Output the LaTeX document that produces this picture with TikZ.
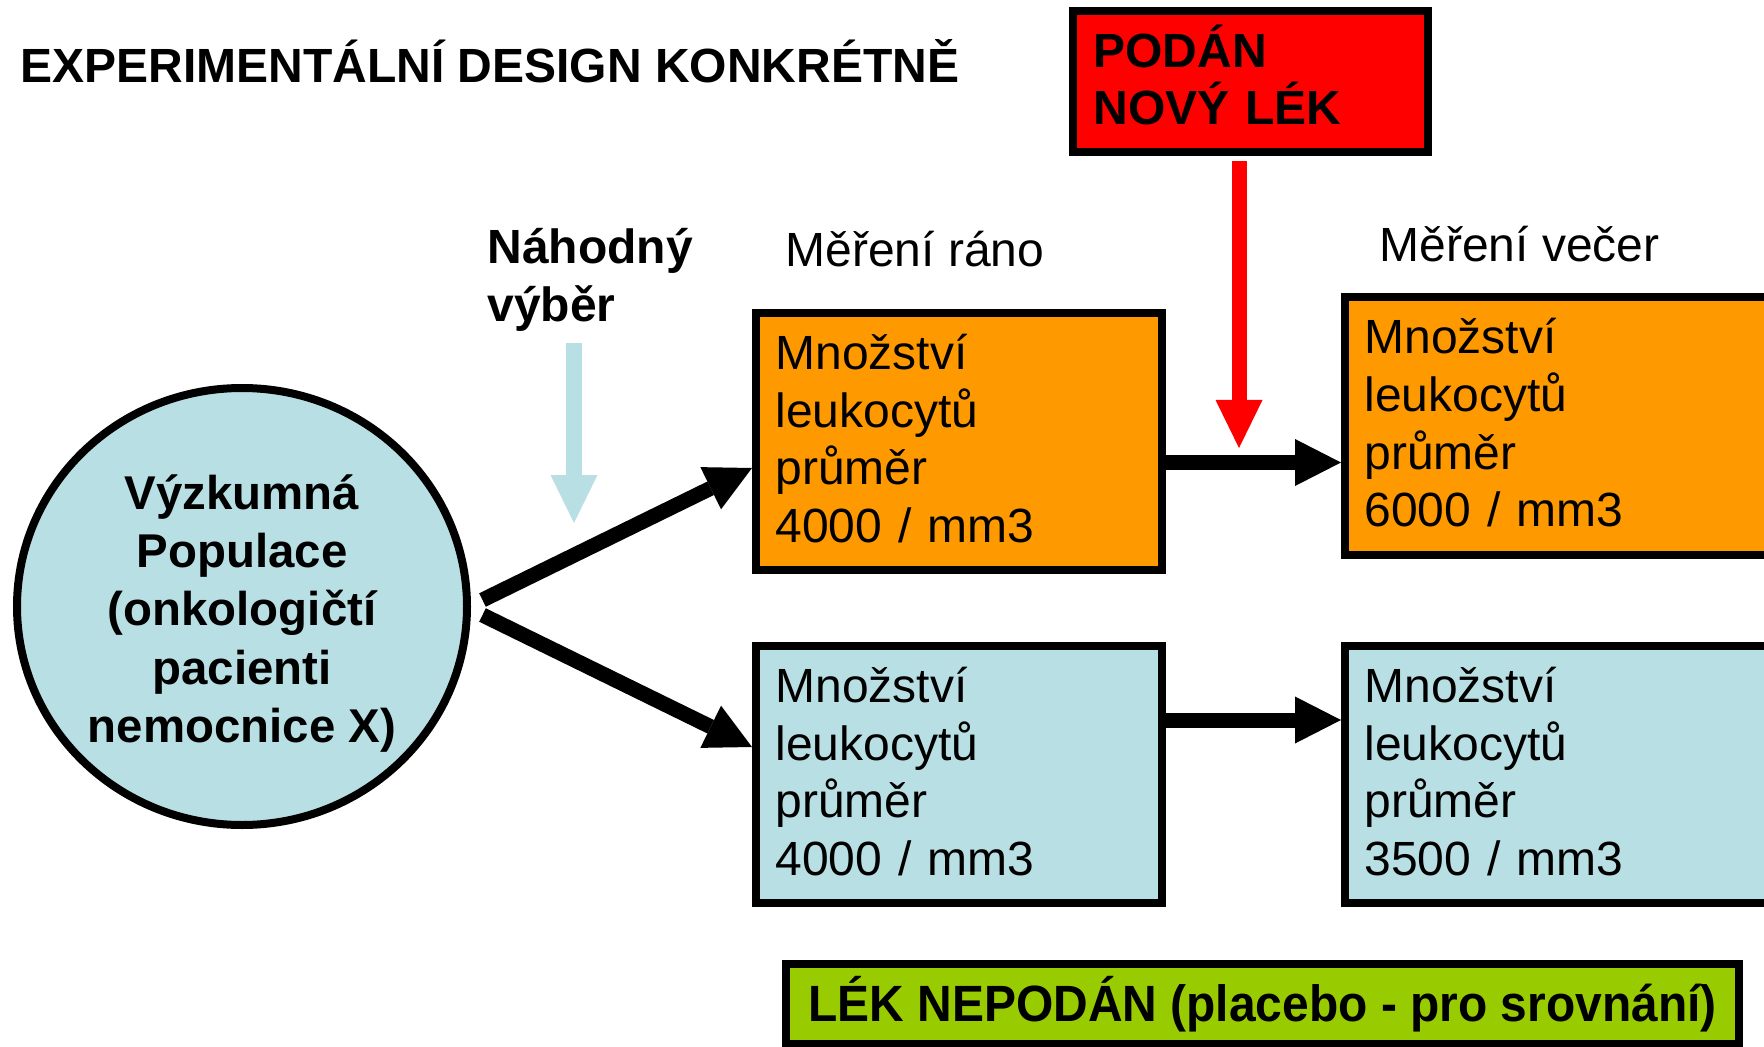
\documentclass[tikz,border=0pt]{standalone}
\usepackage{fontspec}
\setmainfont{Liberation Sans}
\newfontfamily\narrowfont{Liberation Sans}[FakeStretch=0.94]
\usetikzlibrary{arrows.meta,shapes.geometric}
\definecolor{orangebox}{HTML}{FF9900}
\definecolor{bluebox}{HTML}{B8DFE3}
\definecolor{greenbox}{HTML}{99CC00}
\definecolor{redbox}{HTML}{FF0000}
\begin{document}
\begin{tikzpicture}[x=0.5pt,y=-0.5pt,
    frame/.style={draw=black,line width=4pt,inner sep=0pt},
    boxtext/.style={anchor=base west,align=left,text width=180pt,inner sep=0pt,
      font=\fontsize{24}{28.8}\selectfont},
    bigarrow/.style={line width=7.5pt,-{Triangle[length=23pt,width=23.5pt,line width=0pt]}}]
  \useasboundingbox (0,0) rectangle (1764,1047);
  \clip (0,0) rectangle (1764,1047);
  \node[anchor=base west,inner sep=0pt,font=\fontsize{24}{30}\selectfont\bfseries] (title)
    at (20,83) {EXPERIMENTÁLNÍ DESIGN KONKRÉTNĚ};
  % population
  \node[ellipse,frame,fill=bluebox,minimum width=225pt,minimum height=218.5pt] (pop) at (242,606.5) {};
  \node[align=center,inner sep=0pt,font=\fontsize{23.7}{29.1}\selectfont\bfseries] (pop-txt)
    at ([yshift=-3.5pt]pop.center) {Výzkumná\\Populace\\(onkologičtí\\pacienti\\nemocnice X)};
  \node[boxtext,font=\fontsize{24}{29}\selectfont\bfseries] (rand) at (487,264) {Náhodný\\výběr};
  \node[anchor=base west,inner sep=0pt,font=\fontsize{24}{28.8}\selectfont] (morning)
    at (785,266.5) {Měření ráno};
  \node[anchor=base west,inner sep=0pt,font=\fontsize{24}{28.8}\selectfont] (evening)
    at (1379,262) {Měření večer};
  % measurements
  \foreach \nm/\cx/\cy/\w/\col/\val in {o1/959/441.5/203/orangebox/4000,
      o2/1575/426/230/orangebox/6000, b1/959/774.5/203/bluebox/4000,
      b2/1575/774.5/230/bluebox/3500} {
    \node[frame,fill=\col,minimum width=\w pt,minimum height=128.5pt] (\nm) at (\cx,\cy) {};
    \node[boxtext] (\nm-txt) at ([xshift=11.5pt,yshift=-30.25pt]\nm.north west)
      {Množství\\leukocytů\\průměr\\\val{} / mm3};
  }
  \node[frame,fill=redbox,minimum width=177.5pt,minimum height=70.5pt] (drug) at (1250.5,81.5) {};
  \node[boxtext,font=\fontsize{24}{28.5}\selectfont\bfseries] (drug-txt)
    at ([xshift=12pt,yshift=-30.25pt]drug.north west) {PODÁN\\NOVÝ LÉK};
  \node[frame,fill=greenbox,minimum width=476.5pt,minimum height=40pt,
    font=\narrowfont\fontsize{25.5}{30}\selectfont\bfseries] (placebo) at (1262.5,1004)
    {LÉK NEPODÁN (placebo - pro srovnání)};
  % arrows
  \coordinate (randtop) at (574,343);
  \coordinate (randtip) at (574,523);
  \draw[line width=8pt,bluebox,-{Triangle[length=24pt,width=23.5pt,line width=0pt]}]
    (randtop) -- (randtip);
  \coordinate (drugtip) at (1239,448);
  \draw[line width=7.5pt,redbox,-{Triangle[length=24pt,width=23.5pt,line width=0pt]}]
    ([yshift=-2.5pt]drug.south -| drugtip) -- (drugtip);
  \draw[bigarrow] ([xshift=5.75pt,yshift=3.25pt]pop.east) -- ([yshift=-13.25pt]o1.west);
  \draw[bigarrow] ([xshift=5.75pt,yshift=-4.25pt]pop.east) -- ([yshift=13.75pt]b1.west);
  \draw[bigarrow] ([yshift=-10.5pt]o1.east) -- ([yshift=-10.5pt]o1.east -| o2.west);
  \draw[bigarrow] ([yshift=27.25pt]b1.east) -- ([yshift=27.25pt]b1.east -| b2.west);
\end{tikzpicture}
\end{document}
